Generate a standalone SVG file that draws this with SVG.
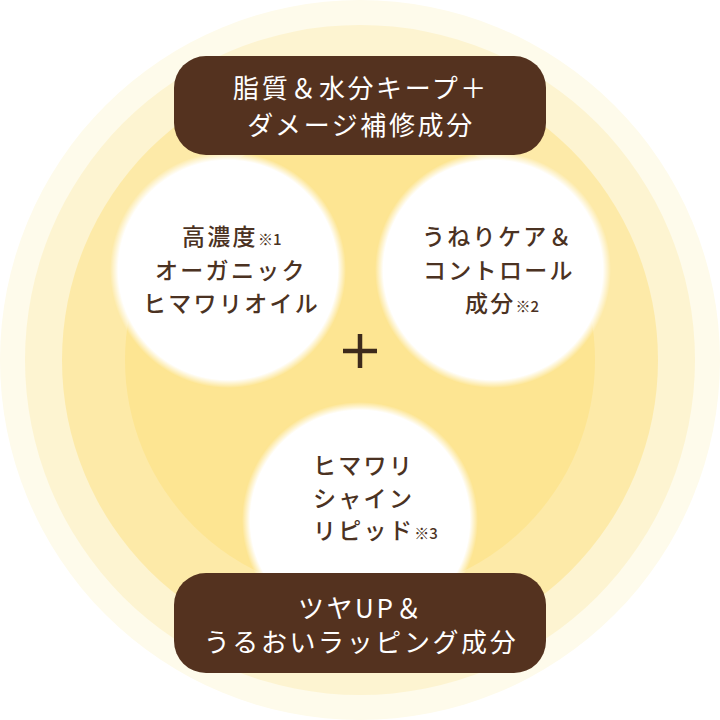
<svg xmlns="http://www.w3.org/2000/svg" width="720" height="720" viewBox="0 0 720 720">
<style>
.ban{fill:#54321f}
.bt{font-family:"Noto Sans CJK JP","Noto Sans",sans-serif;font-size:26px;fill:#ffffff;letter-spacing:2.6px;text-anchor:middle}
.ct{font-family:"Noto Sans CJK JP","Noto Sans",sans-serif;font-size:23px;font-weight:500;fill:#4b3222;letter-spacing:2.3px}
.sm{font-size:15px;letter-spacing:0}
</style>
<defs>
<radialGradient id="soft" cx="0.5" cy="0.5" r="0.5">
<stop offset="0" stop-color="#ffffff" stop-opacity="1"/>
<stop offset="0.93" stop-color="#ffffff" stop-opacity="1"/>
<stop offset="1" stop-color="#ffffff" stop-opacity="0"/>
</radialGradient>
</defs>
<g id="background">
<circle cx="360" cy="360" r="360" fill="#fefbeb"/>
<circle cx="360" cy="360" r="335" fill="#fdf4d1"/>
<circle cx="360" cy="360" r="298" fill="#fdeaa8"/>
<circle cx="360" cy="360" r="235" fill="#fde592"/>
</g>
<g id="node-oil">
<circle cx="228" cy="270" r="118" fill="url(#soft)"/>
<text class="ct"><tspan x="182" y="245">高濃度<tspan class="sm">※1</tspan></tspan><tspan x="155" y="279">オーガニック</tspan><tspan x="143" y="312">ヒマワリオイル</tspan></text>
</g>
<g id="node-wave">
<circle cx="493" cy="270" r="118" fill="url(#soft)"/>
<text class="ct"><tspan x="422" y="245">うねりケア＆</tspan><tspan x="423" y="279">コントロール</tspan><tspan x="465" y="312">成分<tspan class="sm">※2</tspan></tspan></text>
</g>
<g id="node-lipid">
<circle cx="360" cy="520" r="118" fill="url(#soft)"/>
<text class="ct"><tspan x="313" y="474">ヒマワリ</tspan><tspan x="313" y="507">シャイン</tspan><tspan x="313" y="539">リピッド<tspan class="sm">※3</tspan></tspan></text>
</g>
<g id="connectors">
<path d="M343 351H377M360 334V368" stroke="#3d2a1b" stroke-width="4.5" fill="none"/>
</g>
<g id="node-top">
<rect class="ban" x="174" y="56" width="372" height="99" rx="32"/>
<text class="bt"><tspan x="361" y="98">脂質＆水分キープ＋</tspan><tspan x="361" y="135">ダメージ補修成分</tspan></text>
</g>
<g id="node-bottom">
<rect class="ban" x="174" y="573" width="372" height="100" rx="32"/>
<text class="bt"><tspan x="361" y="618">ツヤUP＆</tspan><tspan x="361" y="652">うるおいラッピング成分</tspan></text>
</g>
</svg>
